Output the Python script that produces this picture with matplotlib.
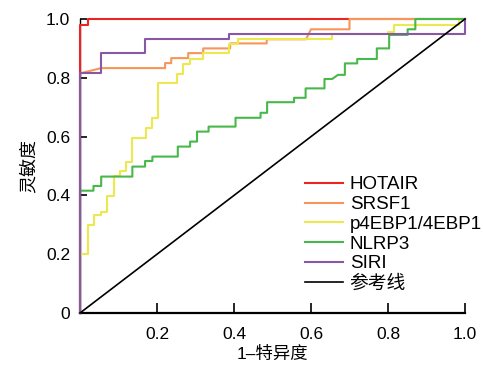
import matplotlib
matplotlib.use('Agg')
import matplotlib.pyplot as plt

plt.rcParams['font.family'] = ['Liberation Sans', 'Noto Sans CJK SC']

# ROC curve vertices (1-specificity, sensitivity)
hotair_fpr = [0, 0, 0.02, 0.02, 1]
hotair_tpr = [0, 0.98, 0.98, 1, 1]

srsf1_fpr = [0, 0, 0.055, 0.221, 0.221, 0.237, 0.237, 0.281, 0.281, 0.32, 0.32,
             0.39, 0.39, 0.485, 0.485, 0.587, 0.60, 0.70, 0.70, 1]
srsf1_tpr = [0, 0.815, 0.833, 0.833, 0.85, 0.85, 0.867, 0.867, 0.884, 0.884, 0.90,
             0.90, 0.917, 0.917, 0.931, 0.931, 0.965, 0.965, 1, 1]

p4ebp1_fpr = [0, 0, 0.022, 0.022, 0.036, 0.036, 0.054, 0.054, 0.069, 0.069, 0.088,
              0.088, 0.104, 0.104, 0.119, 0.119, 0.136, 0.136, 0.171, 0.171, 0.188,
              0.188, 0.202, 0.202, 0.251, 0.251, 0.268, 0.268, 0.286, 0.286, 0.319,
              0.319, 0.386, 0.386, 0.41, 0.41, 0.654, 0.654, 0.80, 0.80, 0.815,
              0.815, 0.985, 0.985, 1]
p4ebp1_tpr = [0, 0.2, 0.2, 0.30, 0.30, 0.333, 0.333, 0.345, 0.345, 0.398, 0.398,
              0.466, 0.466, 0.483, 0.483, 0.515, 0.515, 0.596, 0.596, 0.63, 0.63,
              0.664, 0.664, 0.781, 0.781, 0.813, 0.813, 0.846, 0.846, 0.863, 0.863,
              0.883, 0.883, 0.914, 0.914, 0.931, 0.931, 0.95, 0.95, 0.957, 0.957,
              0.98, 0.98, 1, 1]

nlrp3_fpr = [0, 0, 0.035, 0.035, 0.055, 0.055, 0.136, 0.136, 0.169, 0.169, 0.188,
             0.188, 0.254, 0.254, 0.286, 0.286, 0.304, 0.304, 0.334, 0.334, 0.404,
             0.404, 0.469, 0.469, 0.486, 0.486, 0.556, 0.556, 0.586, 0.586, 0.635,
             0.635, 0.655, 0.67, 0.688, 0.688, 0.72, 0.72, 0.771, 0.771, 0.803,
             0.803, 0.851, 0.851, 0.871, 0.871, 1]
nlrp3_tpr = [0, 0.416, 0.416, 0.432, 0.432, 0.464, 0.464, 0.498, 0.498, 0.517, 0.517,
             0.532, 0.532, 0.566, 0.566, 0.583, 0.583, 0.617, 0.617, 0.634, 0.634,
             0.664, 0.664, 0.681, 0.681, 0.717, 0.717, 0.732, 0.732, 0.764, 0.764,
             0.796, 0.796, 0.81, 0.81, 0.849, 0.849, 0.864, 0.864, 0.90, 0.90,
             0.946, 0.946, 0.965, 0.965, 1, 1]

siri_fpr = [0, 0, 0.055, 0.055, 0.17, 0.17, 0.386, 0.386, 1, 1]
siri_tpr = [0, 0.815, 0.815, 0.883, 0.883, 0.932, 0.932, 0.95, 0.95, 1]

ref_line = [0, 1]

labels = ['HOTAIR', 'SRSF1', 'p4EBP1/4EBP1', 'NLRP3', 'SIRI', '参考线']
colors = ['#ed2424', '#f8965a', '#ece94f', '#48b84a', '#8658a6', 'black']

fig = plt.figure(figsize=(4.83, 3.67), dpi=100)
ax = fig.add_axes([80 / 483, 1 - 313 / 367, 385 / 483, 294 / 367])

curves = [(hotair_fpr, hotair_tpr), (srsf1_fpr, srsf1_tpr), (p4ebp1_fpr, p4ebp1_tpr),
          (nlrp3_fpr, nlrp3_tpr), (siri_fpr, siri_tpr)]
for (fx, ty), lab, c in zip(curves, labels[:5], colors[:5]):
    ax.plot(fx, ty, color=c, lw=1.5, label=lab, clip_on=False, zorder=3)
ax.plot(ref_line, ref_line, color=colors[5], lw=1.2, label=labels[5], clip_on=False, zorder=3)

ax.set_xlim(0, 1)
ax.set_ylim(0, 1)
for s in ['top', 'right']:
    ax.spines[s].set_visible(False)
ax.spines['bottom'].set_linewidth(1.6)
ax.spines['left'].set_linewidth(1.0)

ax.set_xticks([0.2, 0.4, 0.6, 0.8, 1.0])
ax.set_xticklabels(['0.2', '0.4', '0.6', '0.8', '1.0'])
ax.set_yticks([0, 0.2, 0.4, 0.6, 0.8, 1.0])
ax.set_yticklabels(['0', '0.2', '0.4', '0.6', '0.8', '1.0'])
ax.tick_params(axis='x', direction='in', length=7, width=1.2, pad=10, labelsize=12.5)
ax.tick_params(axis='y', direction='in', length=5, width=1.2, pad=7, labelsize=12.5)

ax.set_xlabel('1–特异度', fontsize=12.5, labelpad=3)
ax.set_ylabel('灵敏度', fontsize=13, labelpad=6)

ax.legend(loc='upper left', bbox_to_anchor=(0.585, 0.465), frameon=False, fontsize=13.5,
          borderpad=0, borderaxespad=0, handlelength=2.0, handletextpad=0.37,
          labelspacing=0.14)

fig.savefig('out.png', dpi=100)
